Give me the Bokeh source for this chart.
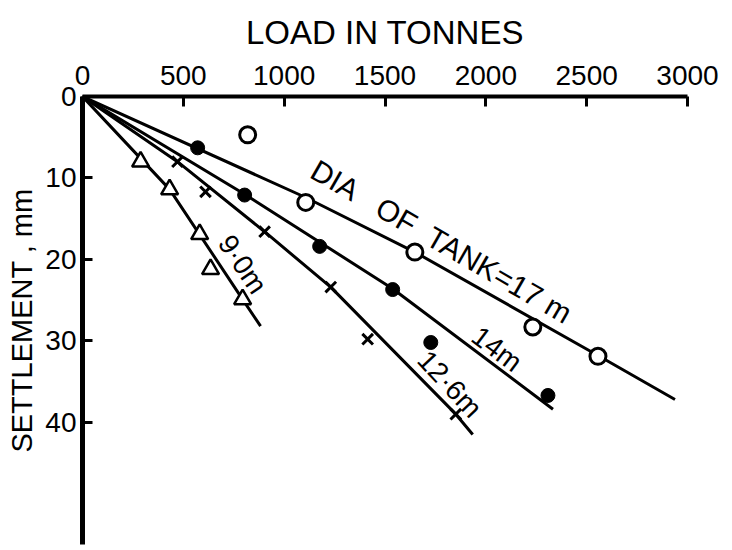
from bokeh.plotting import figure
from bokeh.models import Range1d, FixedTicker, ColumnDataSource
from bokeh.core.properties import value
from bokeh.embed import file_html
from bokeh.resources import INLINE
import math

FONT = "Liberation Sans"
NB = "\u00a0"

x_ticks = [0, 500, 1000, 1500, 2000, 2500, 3000]
y_ticks = [0, 10, 20, 30, 40]

# Tank diameter 17 m (open circles)
load_17 = [819, 1107, 1648, 2233, 2556]
settle_17 = [4.7, 13.0, 19.1, 28.3, 31.9]
fit_load_17 = [0, 1107, 1648, 2556, 2938]
fit_settle_17 = [0, 12.4, 19.1, 31.8, 37.2]

# Tank diameter 14 m (filled circles)
load_14 = [571, 804, 1176, 1538, 1727, 2308]
settle_14 = [6.3, 12.1, 18.4, 23.7, 30.2, 36.7]
fit_load_14 = [0, 804, 1538, 2333]
fit_settle_14 = [0, 12.0, 23.6, 38.4]

# Tank diameter 12.6 m (crosses)
load_126 = [471, 610, 903, 1231, 1414, 1851]
settle_126 = [8.0, 11.7, 16.6, 23.4, 29.8, 39.0]
fit_load_126 = [0, 471, 903, 1231, 1851, 1935]
fit_settle_126 = [0, 8.0, 16.6, 23.4, 39.0, 41.5]

# Tank diameter 9.0 m (triangles)
load_9 = [288, 432, 581, 635, 794]
settle_9 = [8.0, 11.4, 16.9, 21.2, 24.9]
fit_load_9 = [0, 432, 794, 883]
fit_settle_9 = [0, 11.4, 24.9, 28.2]

# Curve labels
label_text = ["DIA" + NB * 3 + "OF" + NB * 2 + "TANK=17" + NB + "m",
              "14m", "12\u00b76m", "9\u00b70m"]
label_load = [1780, 2055, 1821, 794]
label_settle = [17.8, 31.0, 35.3, 20.6]
label_angle_deg = [-30, -37, -47, -56]
label_size = ["30px", "28px", "28px", "28px"]

p = figure(width=721, height=546,
           x_range=Range1d(0, 3000), y_range=Range1d(55, 0),
           x_axis_location="above",
           output_backend="svg", toolbar_location=None,
           min_border_left=82, min_border_right=34,
           min_border_top=96, min_border_bottom=2)
p.outline_line_color = None
p.grid.visible = False
p.background_fill_color = "white"
p.border_fill_color = "white"

xa = p.xaxis[0]
xa.ticker = FixedTicker(ticks=x_ticks)
xa.axis_line_width = 4
xa.axis_line_color = "black"
xa.major_tick_in = 10
xa.major_tick_out = 0
xa.major_tick_line_width = 3
xa.minor_tick_line_color = None
xa.major_label_text_font = FONT
xa.major_label_text_font_size = "28px"
xa.major_label_text_color = "black"
xa.major_label_standoff = 12
xa.axis_label = "LOAD IN TONNES"
xa.axis_label_text_font = FONT
xa.axis_label_text_font_size = "33px"
xa.axis_label_text_font_style = "normal"
xa.axis_label_text_color = "black"
xa.axis_label_standoff = 12

ya = p.yaxis[0]
ya.ticker = FixedTicker(ticks=y_ticks)
ya.axis_line_width = 5
ya.axis_line_color = "black"
ya.major_tick_in = 10
ya.major_tick_out = 0
ya.major_tick_line_width = 3
ya.minor_tick_line_color = None
ya.major_label_text_font = FONT
ya.major_label_text_font_size = "28px"
ya.major_label_text_color = "black"
ya.major_label_standoff = 6
ya.axis_label = "SETTLEMENT , mm"
ya.axis_label_text_font = FONT
ya.axis_label_text_font_size = "29px"
ya.axis_label_text_font_style = "normal"
ya.axis_label_text_color = "black"
ya.axis_label_standoff = 4

# fitted lines
for lx, ly in [(fit_load_17, fit_settle_17), (fit_load_14, fit_settle_14),
               (fit_load_126, fit_settle_126), (fit_load_9, fit_settle_9)]:
    p.line(lx, ly, line_color="black", line_width=3)

# data points
p.scatter(load_17, settle_17, marker="circle", size=16,
          fill_color="white", line_color="black", line_width=3)
p.scatter(load_14, settle_14, marker="circle", size=14,
          fill_color="black", line_color="black", line_width=1)
p.scatter(load_126, settle_126, marker="x", size=15,
          line_color="black", line_width=3)
p.scatter(load_9, settle_9, marker="triangle", size=17,
          fill_color="white", line_color="black", line_width=2.5)

src = ColumnDataSource(dict(x=label_load, y=label_settle, text=label_text,
                            size=label_size,
                            angle=[math.radians(a) for a in label_angle_deg]))
p.text(x="x", y="y", text="text", angle="angle", source=src,
       text_font=value(FONT), text_font_size="size",
       text_color="black", text_align="center", text_baseline="middle")

open("out.html", "w").write(file_html(p, INLINE))
